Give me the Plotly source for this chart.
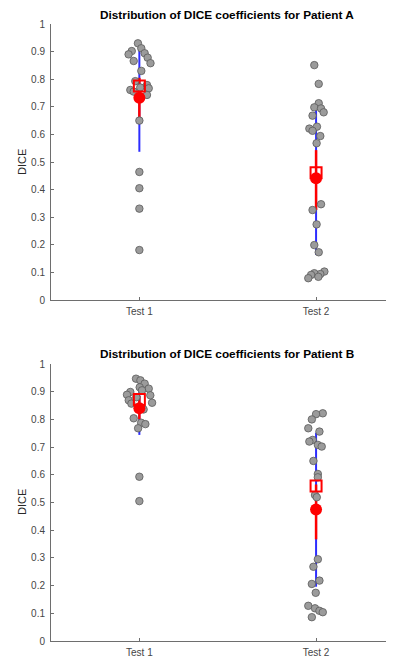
import plotly.graph_objects as go

# ---------------- data ----------------
categories = ["Test 1", "Test 2"]

# Patient A
a_test1 = [0.930, 0.912, 0.902, 0.890, 0.894, 0.878, 0.866, 0.858, 0.830, 0.793,
           0.779, 0.767, 0.761, 0.755, 0.743, 0.770, 0.650, 0.464, 0.405, 0.331, 0.181]
a_test1_jit = [-0.008, 0.011, -0.043, -0.061, 0.030, 0.047, -0.032, 0.063, 0.011, -0.023,
               0.043, 0.053, -0.051, -0.032, 0.043, 0.005, 0.0, 0.0, 0.0, 0.0, 0.0]
a_test2 = [0.851, 0.783, 0.713, 0.698, 0.694, 0.680, 0.668, 0.628, 0.621, 0.613, 0.594,
           0.568, 0.347, 0.326, 0.274, 0.199, 0.173, 0.103, 0.094, 0.097, 0.091, 0.079, 0.084]
a_test2_jit = [-0.010, 0.015, 0.015, -0.010, 0.028, 0.043, -0.020, 0.005, -0.038, -0.020, 0.024,
               0.003, 0.028, -0.020, 0.003, -0.010, 0.015, 0.047, 0.024, -0.010, -0.028, -0.044, 0.013]

# Patient B
b_test1 = [0.947, 0.941, 0.929, 0.916, 0.911, 0.905, 0.899, 0.889, 0.887, 0.880,
           0.869, 0.860, 0.857, 0.836, 0.804, 0.788, 0.783, 0.768, 0.593, 0.505]
b_test1_jit = [-0.019, 0.006, 0.030, 0.002, 0.053, 0.015, -0.051, -0.070, 0.062, -0.017,
               -0.060, 0.072, -0.045, 0.024, -0.032, 0.010, 0.034, -0.007, 0.0, 0.0]
b_test2 = [0.822, 0.819, 0.800, 0.768, 0.756, 0.726, 0.720, 0.708, 0.702, 0.650, 0.603, 0.591,
           0.527, 0.519, 0.295, 0.268, 0.218, 0.206, 0.174, 0.127, 0.118, 0.109, 0.104, 0.086]
b_test2_jit = [0.038, 0.000, -0.024, -0.044, 0.019, -0.019, -0.038, 0.010, 0.032, -0.015, 0.010, 0.010,
               -0.006, 0.004, 0.010, -0.015, 0.019, -0.024, -0.002, -0.044, -0.006, 0.019, 0.038, -0.024]

# summary statistics per group [Test 1, Test 2]
a_mean = [0.733, 0.441]
a_median = [0.775, 0.461]
a_ci_low = [0.650, 0.326]
a_ci_high = [0.805, 0.543]
a_sd_low = [0.537, 0.163]
a_sd_high = [0.905, 0.688]

b_mean = [0.840, 0.475]
b_median = [0.872, 0.560]
b_ci_low = [0.800, 0.367]
b_ci_high = [0.885, 0.565]
b_sd_low = [0.744, 0.196]
b_sd_high = [0.942, 0.752]

titles = ["Distribution of DICE coefficients for Patient A",
          "Distribution of DICE coefficients for Patient B"]
y_ticks = [i / 10 for i in range(11)]

# ---------------- figure ----------------
# the page body has an 8px margin; shift the layout so the picture lands where the reference has it
OFF = 8
W, H = 394 - OFF, 658 - OFF
fig = go.Figure()

panels = [
    dict(groups=[(a_test1, a_test1_jit), (a_test2, a_test2_jit)], mean=a_mean, median=a_median,
         ci_low=a_ci_low, ci_high=a_ci_high, sd_low=a_sd_low, sd_high=a_sd_high),
    dict(groups=[(b_test1, b_test1_jit), (b_test2, b_test2_jit)], mean=b_mean, median=b_median,
         ci_low=b_ci_low, ci_high=b_ci_high, sd_low=b_sd_low, sd_high=b_sd_high),
]

GRAY_FILL = "rgb(155,155,155)"
GRAY_EDGE = "rgb(90,90,90)"
RED = "rgb(255,0,0)"
BLUE = "rgb(45,45,255)"

for p_i, p in enumerate(panels):
    xa = "x" if p_i == 0 else "x2"
    ya = "y" if p_i == 0 else "y2"
    for g_i, (vals, jit) in enumerate(p["groups"]):
        xc = g_i + 1
        fig.add_trace(go.Scatter(x=[xc, xc], y=[p["sd_low"][g_i], p["sd_high"][g_i]], mode="lines",
                                 line=dict(color=BLUE, width=2), xaxis=xa, yaxis=ya, showlegend=False,
                                 hoverinfo="skip"))
        fig.add_trace(go.Scatter(x=[xc, xc], y=[p["ci_low"][g_i], p["ci_high"][g_i]], mode="lines",
                                 line=dict(color=RED, width=2.5), xaxis=xa, yaxis=ya, showlegend=False,
                                 hoverinfo="skip"))
        fig.add_trace(go.Scatter(x=[xc + j for j in jit], y=vals, mode="markers",
                                 marker=dict(size=7.5, color=GRAY_FILL, line=dict(color=GRAY_EDGE, width=0.8)),
                                 xaxis=xa, yaxis=ya, showlegend=False))
        fig.add_trace(go.Scatter(x=[xc], y=[p["median"][g_i]], mode="markers",
                                 marker=dict(symbol="square-open", size=11, color=RED, line=dict(width=2)),
                                 xaxis=xa, yaxis=ya, showlegend=False))
        fig.add_trace(go.Scatter(x=[xc], y=[p["mean"][g_i]], mode="markers",
                                 marker=dict(symbol="circle", size=12, color=RED, line=dict(width=0)),
                                 xaxis=xa, yaxis=ya, showlegend=False))


def py(p):
    """page pixel y -> paper fraction"""
    return 1 - (p - OFF) / H


def px(p):
    """page pixel x -> paper fraction"""
    return (p - OFF) / W


x_dom = [px(51), 1.0]
x_range = [0.5, 2.441]
axis_col = "rgb(110,110,110)"
tick_font = dict(family="Liberation Sans, Arial, sans-serif", size=10, color="rgb(70,70,70)")

common_x = dict(range=x_range, domain=x_dom, tickmode="array", tickvals=[1, 2], ticktext=categories,
                ticks="inside", ticklen=3, tickcolor=axis_col, showline=True, linecolor=axis_col,
                linewidth=1, showgrid=False, zeroline=False, tickfont=tick_font, automargin=False,
                ticklabelstandoff=2)
common_y = dict(range=[0, 1], tickmode="array", tickvals=y_ticks,
                ticktext=[("%g" % v) for v in y_ticks],
                ticks="inside", ticklen=3, tickcolor=axis_col, showline=True, linecolor=axis_col,
                linewidth=1, showgrid=False, zeroline=False, tickfont=tick_font, automargin=False,
                ticklabelstandoff=3)

fig.update_layout(
    width=W, height=H,
    margin=dict(l=0, r=0, t=0, b=0),
    paper_bgcolor="white", plot_bgcolor="white",
    xaxis=dict(**common_x, anchor="y"),
    yaxis=dict(**common_y, domain=[py(300), py(24)], anchor="x"),
    xaxis2=dict(**common_x, anchor="y2"),
    yaxis2=dict(**common_y, domain=[py(641), py(364)], anchor="x2"),
)

title_font = dict(family="Liberation Sans, Arial, sans-serif", size=11.8, color="black")
label_font = dict(family="Liberation Sans, Arial, sans-serif", size=11, color="rgb(40,40,40)")
for t, ty in zip(titles, [15, 354]):
    fig.add_annotation(text="<b>%s</b>" % t, x=px(227), y=py(ty), xref="paper", yref="paper",
                       showarrow=False, font=title_font, xanchor="center", yanchor="middle")
for ly in [162, 502]:
    fig.add_annotation(text="DICE", x=px(22), y=py(ly), xref="paper", yref="paper",
                       showarrow=False, font=label_font, textangle=-90, xanchor="center", yanchor="middle")

fig.write_html("out.html")
